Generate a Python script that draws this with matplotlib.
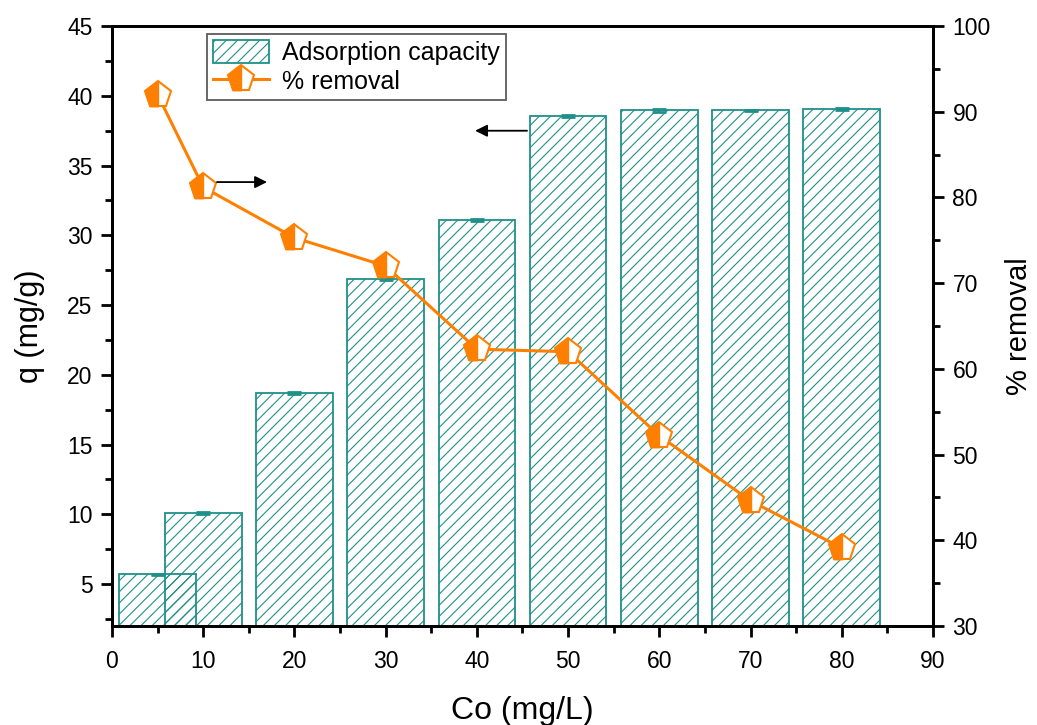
import numpy as np
import matplotlib.pyplot as plt
from matplotlib.ticker import MultipleLocator
from matplotlib.lines import Line2D
from matplotlib.patches import Patch
from matplotlib.path import Path

plt.rcParams['font.family'] = ['Liberation Sans', 'DejaVu Sans']
plt.rcParams['hatch.linewidth'] = 0.8

teal = '#1f9089'
orange = '#ff8000'

conc = [5, 10, 20, 30, 40, 50, 60, 70, 80]          # Co (mg/L)
q = [5.7, 10.1, 18.7, 26.9, 31.1, 38.55, 38.95, 38.95, 39.05]   # mg/g
q_err = [0.05, 0.05, 0.08, 0.08, 0.08, 0.08, 0.08, 0.06, 0.05]
removal = [92.0, 81.2, 75.3, 72.0, 62.3, 62.0, 52.2, 44.6, 39.1]  # %

# upright pentagon, left half only (overlaid on a white pentagon)
ang = np.deg2rad([90, 162, 234])
half_pent = Path([(0, 1), (np.cos(ang[1]), np.sin(ang[1])),
                  (np.cos(ang[2]), np.sin(ang[2])), (0, np.sin(ang[2])), (0, 1)],
                 [Path.MOVETO, Path.LINETO, Path.LINETO, Path.LINETO, Path.CLOSEPOLY])
msize = 20
full_kw = dict(marker='p', markersize=msize, markerfacecolor='white',
               markeredgecolor=orange, markeredgewidth=1.5)
half_kw = dict(marker=half_pent, markersize=msize, markerfacecolor=orange,
               markeredgecolor=orange, markeredgewidth=1.0)

fig = plt.figure(figsize=(10.37, 7.25), dpi=100)
ax = fig.add_axes([0.108, 0.1366, 0.7917, 0.8274])
ax2 = ax.twinx()

ax.bar(conc, q, width=8.4, facecolor='none', edgecolor=teal, hatch='///',
       linewidth=1.3, yerr=q_err, ecolor=teal, capsize=5,
       error_kw=dict(elinewidth=1.5, capthick=2))

ax2.plot(conc, removal, '-', color=orange, linewidth=2.2, **full_kw)
ax2.plot(conc, removal, linestyle='none', **half_kw)

ax.set_xlim(0, 90)
ax.set_ylim(2, 45)
ax2.set_ylim(30, 100)

ax.xaxis.set_major_locator(MultipleLocator(10))
ax.xaxis.set_minor_locator(MultipleLocator(5))
ax.set_yticks(np.arange(5, 46, 5))
ax.yaxis.set_minor_locator(MultipleLocator(2.5))
ax2.yaxis.set_major_locator(MultipleLocator(10))
ax2.yaxis.set_minor_locator(MultipleLocator(5))

for a in (ax, ax2):
    for s in a.spines.values():
        s.set_linewidth(2)
    a.tick_params(which='major', direction='out', length=8, width=2,
                  labelsize=16.5, pad=6)
    a.tick_params(which='minor', direction='out', length=5, width=2)
ax.tick_params(axis='x', which='major', pad=9)
ax.tick_params(axis='x', which='both', top=False)
ax.tick_params(axis='y', which='both', right=False)

ax.set_xlabel('Co (mg/L)', fontsize=23, labelpad=17)
ax.set_ylabel('q (mg/g)', fontsize=22, labelpad=16)
ax2.set_ylabel('% removal', fontsize=21, labelpad=10)

# arrows pointing each series to its axis
ax2.annotate('', xy=(17.3, 81.8), xytext=(11.2, 81.8),
             arrowprops=dict(arrowstyle='-|>', color='black', lw=1.3,
                             mutation_scale=18))
ax.annotate('', xy=(39.5, 37.5), xytext=(45.8, 37.5),
            arrowprops=dict(arrowstyle='-|>', color='black', lw=1.3,
                            mutation_scale=18))

bar_handle = Patch(facecolor='none', edgecolor=teal, hatch='///', linewidth=1.3)
line_handle = (Line2D([], [], color=orange, linewidth=2.2, **full_kw),
               Line2D([], [], linestyle='none', **half_kw))
leg = ax.legend([bar_handle, line_handle], ['Adsorption capacity', '% removal'],
                loc='upper left', bbox_to_anchor=(0.1157, 0.9867), borderaxespad=0,
                fontsize=18, frameon=True, fancybox=False, edgecolor='#333333',
                handlelength=2.25, handleheight=1.0, borderpad=0.25,
                labelspacing=0.15, handletextpad=0.5)
leg.get_frame().set_linewidth(1.3)

fig.savefig('out.png', dpi=100)
